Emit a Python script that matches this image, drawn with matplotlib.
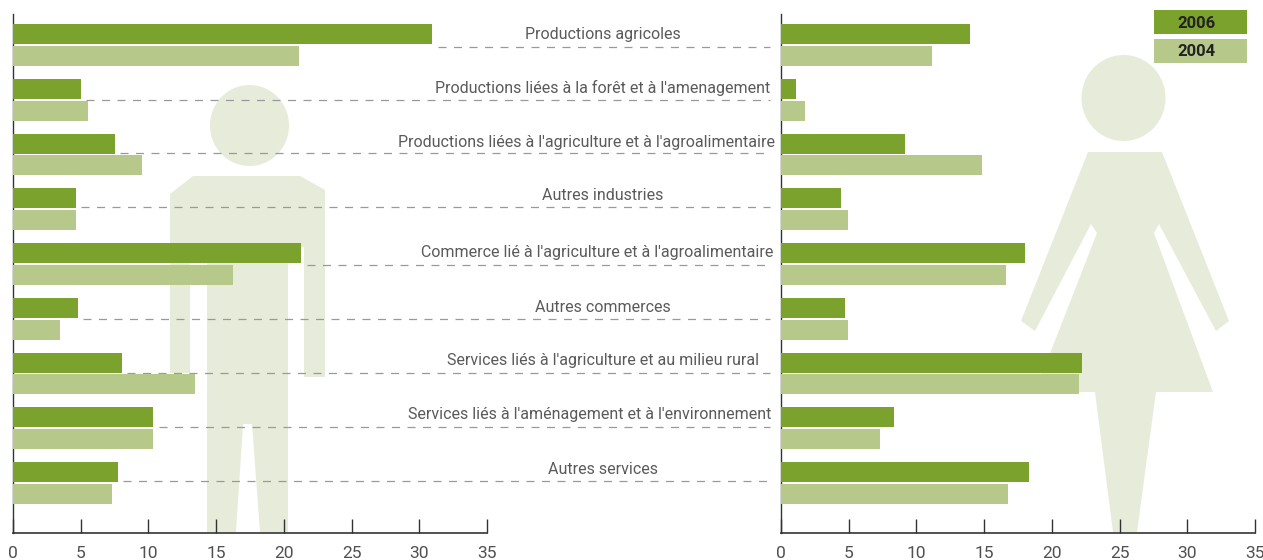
import matplotlib
matplotlib.use("Agg")
from matplotlib import pyplot as plt
from matplotlib.patches import Ellipse, Polygon, Rectangle

categories = ["Productions agricoles",
              "Productions liées à la forêt et à l'amenagement",
              "Productions liées à l'agriculture et à l'agroalimentaire",
              "Autres industries",
              "Commerce lié à l'agriculture et à l'agroalimentaire",
              "Autres commerces",
              "Services liés à l'agriculture et au milieu rural",
              "Services liés à l'aménagement et à l'environnement",
              "Autres services"]
men_2006 = [30.95, 5, 7.5, 4.65, 21.3, 4.8, 8.05, 10.35, 7.75]
men_2004 = [21.1, 5.55, 9.5, 4.65, 16.25, 3.5, 13.45, 10.35, 7.3]
women_2006 = [13.95, 1.1, 9.15, 4.4, 18, 4.7, 22.2, 8.35, 18.3]
women_2004 = [11.15, 1.8, 14.85, 4.95, 16.6, 4.95, 22, 7.3, 16.75]
ticks = [0, 5, 10, 15, 20, 25, 30, 35]
legend_labels = ["2006", "2004"]

dark = "#7aa22d"
light = "#b6c98b"
pale = "#e6ecd9"
W, H = 1263, 560
font = "Roboto"

fig = plt.figure(figsize=(W / 100, H / 100), dpi=100)

# background layer in pixels: silhouettes, labels, legend
bg = fig.add_axes([0, 0, 1, 1], zorder=0)
bg.set_xlim(0, W)
bg.set_ylim(H, 0)
bg.axis("off")

bg.add_patch(Ellipse((249.5, 125.5), 79, 81, color=pale, lw=0))
man = [(193, 176), (300, 176), (325, 190), (325, 377), (304, 377), (304, 247), (288, 247),
       (288, 532), (260, 532), (252, 424), (243, 424), (236, 532), (207, 532), (207, 247),
       (190, 247), (190, 373), (170, 373), (170, 194)]
bg.add_patch(Polygon(man, closed=True, color=pale, lw=0))

bg.add_patch(Ellipse((1123.5, 98), 84, 86, color=pale, lw=0))
woman = [(1088, 152), (1162, 152), (1229, 321), (1216, 331), (1159, 224), (1154, 233),
         (1213, 392), (1156, 392), (1137, 532), (1113, 532), (1095, 392), (1035, 392),
         (1097, 233), (1091, 224), (1035, 331), (1021, 321)]
bg.add_patch(Polygon(woman, closed=True, color=pale, lw=0))

label_x = [603, 602.5, 587, 603, 597.5, 602.5, 603, 590, 603]
label_y = [35, 88, 142, 195, 253, 307, 361, 415, 469]
for name, x, y in zip(categories, label_x, label_y):
    bg.text(x, y, name, ha="center", va="center", fontsize=11.5, color="#5a5a5a", family=font)

for i, (label, colour) in enumerate(zip(legend_labels, [dark, light])):
    bg.add_patch(Rectangle((1154, 10 + 29 * i), 93, 24, color=colour, lw=0))
    bg.text(1196.5, 23 + 29 * i, label, ha="center", va="center", fontsize=12,
            color="#222222", family=font, weight="bold")

# row centre at 45 px, 54.75 px between rows
step = 54.75
top = (14 - 45) / step
bottom = (532.5 - 45) / step


def panel(left_px, v_2006, v_2004):
    ax = fig.add_axes([left_px / W, 1 - 532.5 / H, 474 / W, (532.5 - 14) / H], zorder=1)
    ax.patch.set_visible(False)
    rows = range(len(v_2006))
    ax.barh([r - 0.2 for r in rows], v_2006, height=0.365, color=dark, zorder=3)
    ax.barh([r + 0.2 for r in rows], v_2004, height=0.365, color=light, zorder=3)
    ax.set_xlim(0, 35)
    ax.set_ylim(bottom, top)
    ax.set_yticks([])
    ax.set_xticks(ticks)
    ax.tick_params(axis="x", direction="in", length=10, width=1, color="#333333", pad=9.5,
                   labelsize=12.5, labelcolor="#505050")
    for t in ax.get_xticklabels():
        t.set_family(font)
    ax.spines["top"].set_visible(False)
    ax.spines["right"].set_visible(False)
    ax.spines["left"].set_color("#333333")
    ax.spines["bottom"].set_color("#333333")
    ax.spines["left"].set_linewidth(1)
    ax.spines["bottom"].set_linewidth(1.2)
    return ax


ax_men = panel(13, men_2006, men_2004)
ax_women = panel(781, women_2006, women_2004)

# dashed leaders from the end of each 2006 bar to the right panel
leader_y = [47, 100, 153.3, 206.7, 265, 319, 373, 427.3, 481]
for v, y in zip(men_2006, leader_y):
    ax_men.plot([v + 0.4, (770 - 13) / (474 / 35)], [(y - 45) / step] * 2, color="#999999",
                lw=0.9, ls=(0, (6.4, 6)), clip_on=False, zorder=2)

fig.savefig("out.png", dpi=100)
